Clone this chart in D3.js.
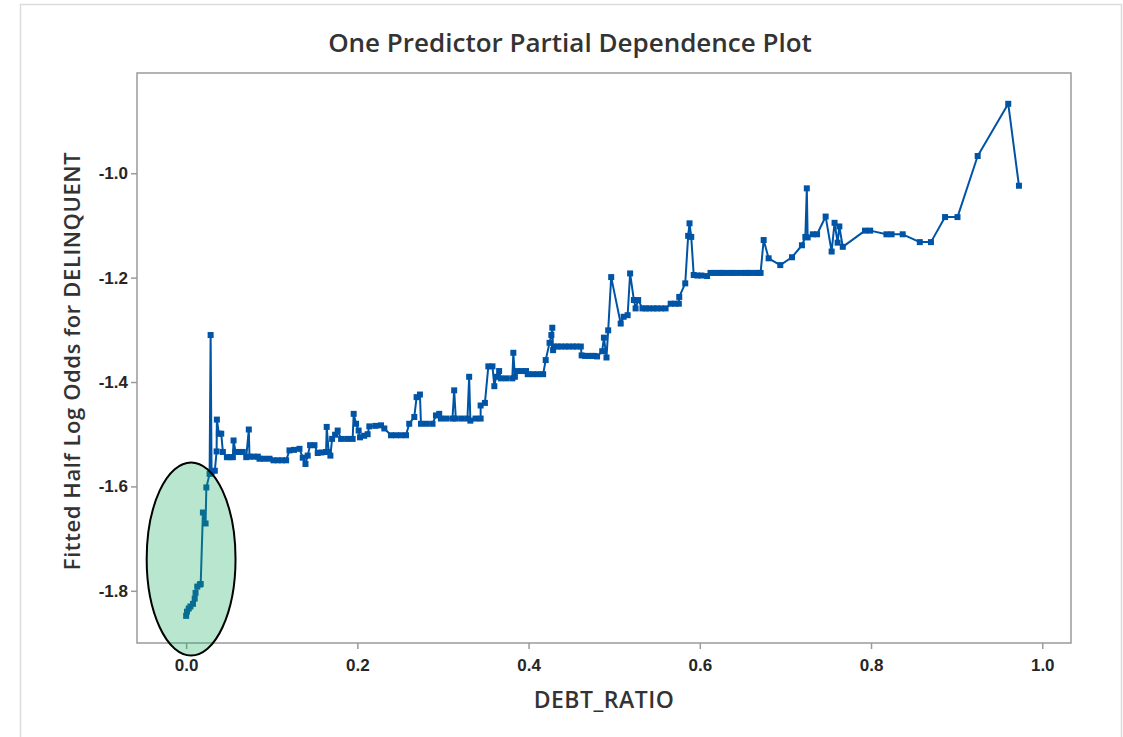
<!DOCTYPE html>
<html>
<head>
<meta charset="utf-8">
<script src="https://cdn.jsdelivr.net/npm/d3@7"></script>
<style>
  body { margin: 0; background: #fff; }
  svg { display: block; font-family: "Open Sans", "Noto Sans", sans-serif; }
</style>
</head>
<body>
<div id="chart"></div>
<script>
// values
const xTicks = [0.0, 0.2, 0.4, 0.6, 0.8, 1.0];
const yTicks = [-1.8, -1.6, -1.4, -1.2, -1.0];

// [DEBT_RATIO, fitted half log odds]
const pdpPoints = [
  [0.000,-1.848],[0.001,-1.840],[0.003,-1.834],[0.005,-1.830],[0.008,-1.825],[0.010,-1.815],
  [0.011,-1.804],[0.013,-1.792],[0.016,-1.788],[0.017,-1.787],[0.0196,-1.650],[0.0227,-1.671],
  [0.0236,-1.602],[0.0274,-1.576],[0.0286,-1.310],[0.0297,-1.573],[0.0335,-1.570],[0.0356,-1.533],
  [0.0359,-1.472],[0.0382,-1.499],[0.041,-1.499],[0.0429,-1.534],[0.0476,-1.544],[0.051,-1.544],
  [0.0546,-1.544],[0.0554,-1.512],[0.0577,-1.534],[0.062,-1.534],[0.0662,-1.534],[0.0702,-1.544],
  [0.0732,-1.491],[0.074,-1.543],[0.079,-1.543],[0.0837,-1.543],[0.0857,-1.547],[0.091,-1.547],
  [0.0974,-1.547],[0.102,-1.550],[0.107,-1.550],[0.112,-1.550],[0.1168,-1.550],[0.1207,-1.531],
  [0.126,-1.530],[0.1324,-1.528],[0.1362,-1.545],[0.1394,-1.557],[0.142,-1.541],[0.1448,-1.521],
  [0.1499,-1.521],[0.1537,-1.536],[0.158,-1.535],[0.1635,-1.534],[0.1642,-1.486],[0.1665,-1.534],
  [0.1685,-1.541],[0.1705,-1.509],[0.174,-1.501],[0.177,-1.493],[0.181,-1.509],[0.188,-1.509],
  [0.1945,-1.509],[0.1957,-1.461],[0.1985,-1.480],[0.2015,-1.493],[0.2031,-1.506],[0.208,-1.503],
  [0.212,-1.500],[0.214,-1.485],[0.221,-1.484],[0.2276,-1.483],[0.2315,-1.489],[0.2393,-1.502],
  [0.245,-1.502],[0.251,-1.502],[0.2568,-1.502],[0.2606,-1.480],[0.2665,-1.467],[0.2692,-1.429],
  [0.2731,-1.424],[0.2743,-1.480],[0.281,-1.480],[0.2878,-1.480],[0.2918,-1.464],[0.2956,-1.461],
  [0.2976,-1.470],[0.304,-1.470],[0.3111,-1.470],[0.3131,-1.416],[0.315,-1.470],[0.322,-1.470],
  [0.3286,-1.470],[0.3306,-1.390],[0.332,-1.474],[0.338,-1.470],[0.344,-1.470],[0.344,-1.445],
  [0.349,-1.440],[0.353,-1.370],[0.3578,-1.370],[0.360,-1.408],[0.362,-1.390],[0.3656,-1.379],
  [0.3676,-1.393],[0.374,-1.393],[0.381,-1.393],[0.3822,-1.344],[0.384,-1.390],[0.387,-1.379],
  [0.392,-1.379],[0.397,-1.379],[0.399,-1.385],[0.405,-1.385],[0.411,-1.385],[0.417,-1.385],
  [0.420,-1.358],[0.4245,-1.325],[0.4266,-1.310],[0.4277,-1.296],[0.4286,-1.339],[0.4297,-1.332],
  [0.434,-1.332],[0.438,-1.332],[0.443,-1.332],[0.447,-1.332],[0.452,-1.332],[0.456,-1.332],
  [0.461,-1.332],[0.462,-1.349],[0.466,-1.350],[0.470,-1.350],[0.474,-1.350],[0.477,-1.350],
  [0.480,-1.351],[0.486,-1.341],[0.488,-1.315],[0.491,-1.353],[0.493,-1.301],
  [0.4965,-1.199],[0.5076,-1.288],[0.511,-1.275],[0.5157,-1.272],[0.5186,-1.192],[0.523,-1.243],
  [0.525,-1.259],[0.528,-1.243],[0.533,-1.259],[0.537,-1.259],[0.541,-1.259],[0.546,-1.259],
  [0.550,-1.259],[0.555,-1.259],[0.560,-1.259],[0.566,-1.250],[0.571,-1.250],[0.5755,-1.250],
  [0.576,-1.237],[0.583,-1.211],[0.5864,-1.120],[0.588,-1.096],[0.590,-1.122],[0.5929,-1.195],
  [0.597,-1.196],[0.602,-1.196],[0.6085,-1.197],[0.6125,-1.191],[0.617,-1.191],[0.622,-1.191],
  [0.625,-1.191],[0.628,-1.191],[0.634,-1.191],[0.638,-1.191],[0.642,-1.191],[0.648,-1.191],
  [0.653,-1.191],[0.656,-1.191],[0.659,-1.191],[0.665,-1.191],[0.668,-1.191],[0.671,-1.191],
  [0.6746,-1.128],[0.6804,-1.163],[0.694,-1.176],[0.7077,-1.161],[0.7193,-1.138],[0.7233,-1.122],
  [0.725,-1.029],[0.726,-1.123],[0.732,-1.117],[0.737,-1.117],[0.747,-1.083],[0.754,-1.150],
  [0.7574,-1.095],[0.761,-1.133],[0.763,-1.102],[0.767,-1.141],[0.793,-1.110],[0.799,-1.110],
  [0.818,-1.117],[0.824,-1.117],[0.837,-1.117],[0.857,-1.132],[0.870,-1.132],[0.8865,-1.084],
  [0.901,-1.084],[0.9246,-0.967],[0.9603,-0.867],[0.9728,-1.024]
];

// highlight ellipse around the low end, in data units: [cx, cy, rx, ry]
const highlight = [0.0058, -1.739, 0.0519, 0.185];

const width = 1123, height = 737;
const margin = {top: 73, right: 52, bottom: 94, left: 137};
const blue = "#0054a6";

const svg = d3.select("#chart").append("svg")
  .attr("width", width)
  .attr("height", height);

// light page frame
svg.append("path")
  .attr("d", "M20.5," + (height + 2) + " V4.5 H1121.5 V" + (height + 2))
  .attr("fill", "none")
  .attr("stroke", "#dcdcdc")
  .attr("stroke-width", 1.5);

const x = d3.scaleLinear()
  .domain([-0.0574, 1.0336])
  .range([margin.left, width - margin.right]);

const y = d3.scaleLinear()
  .domain([-1.9, -0.808])
  .range([height - margin.bottom, margin.top]);

const xAxis = svg.append("g")
  .attr("transform", "translate(0," + (height - margin.bottom) + ")")
  .call(d3.axisBottom(x).tickValues(xTicks).tickFormat(d3.format(".1f")).tickSizeOuter(0).tickSize(6).tickPadding(10));

const yAxis = svg.append("g")
  .attr("transform", "translate(" + margin.left + ",0)")
  .call(d3.axisLeft(y).tickValues(yTicks).tickFormat(d => d3.format(".1f")(d).replace("−", "-")).tickSizeOuter(0).tickSize(6).tickPadding(3));

[xAxis, yAxis].forEach(g => {
  g.select(".domain").remove();
  g.selectAll("line").attr("stroke", "#9a9a9a").attr("stroke-width", 1.5);
  g.selectAll("text").attr("fill", "#262626").style("font-size", "17px").style("font-weight", 600);
});

// plot frame
svg.append("rect")
  .attr("x", x.range()[0])
  .attr("y", y.range()[1])
  .attr("width", x.range()[1] - x.range()[0])
  .attr("height", y.range()[0] - y.range()[1])
  .attr("fill", "none")
  .attr("stroke", "#9a9a9a")
  .attr("stroke-width", 1.5);

const line = d3.line()
  .x(d => x(d[0]))
  .y(d => y(d[1]));

svg.append("path")
  .datum(pdpPoints)
  .attr("d", line)
  .attr("fill", "none")
  .attr("stroke", blue)
  .attr("stroke-width", 2)
  .attr("stroke-linejoin", "round");

svg.selectAll("rect.pt")
  .data(pdpPoints)
  .enter().append("rect")
  .attr("class", "pt")
  .attr("x", d => x(d[0]) - 3)
  .attr("y", d => y(d[1]) - 3)
  .attr("width", 6)
  .attr("height", 6)
  .attr("fill", blue);

// green highlight ellipse drawn over the line
svg.append("ellipse")
  .attr("cx", x(highlight[0]))
  .attr("cy", y(highlight[1]))
  .attr("rx", x(highlight[0] + highlight[2]) - x(highlight[0]))
  .attr("ry", y(highlight[1] - highlight[3]) - y(highlight[1]))
  .attr("fill", "rgb(22,172,95)")
  .attr("fill-opacity", 0.3)
  .attr("stroke", "#000")
  .attr("stroke-width", 2);

svg.append("text")
  .attr("x", 570)
  .attr("y", 52)
  .attr("text-anchor", "middle")
  .attr("fill", "#333")
  .style("font-size", "26px")
  .style("font-weight", 600)
  .text("One Predictor Partial Dependence Plot");

svg.append("text")
  .attr("x", 604)
  .attr("y", 708)
  .attr("text-anchor", "middle")
  .attr("fill", "#333")
  .style("font-size", "23px")
  .style("font-weight", 600)
  .style("letter-spacing", "0.5px")
  .text("DEBT_RATIO");

svg.append("text")
  .attr("transform", "translate(80,361) rotate(-90)")
  .attr("text-anchor", "middle")
  .attr("fill", "#333")
  .style("font-size", "22px")
  .style("font-weight", 600)
  .style("letter-spacing", "0.6px")
  .text("Fitted Half Log Odds for DELINQUENT");
</script>
</body>
</html>
